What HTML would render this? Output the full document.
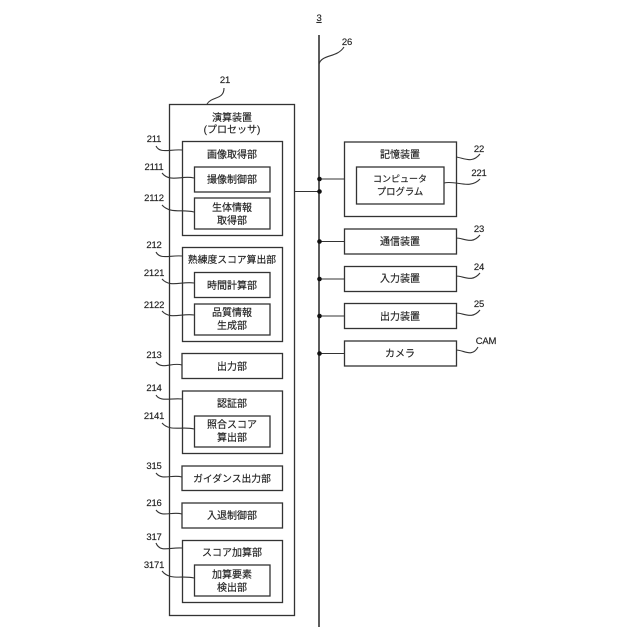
<!DOCTYPE html>
<html><head><meta charset="utf-8"><style>
html,body{margin:0;padding:0;background:#fff}
svg{display:block}
text{font-family:"Liberation Sans","Noto Sans CJK JP",sans-serif;fill:#222;font-size:10px;text-anchor:middle;stroke:#222;stroke-width:.15px}
.n{font-size:9.5px;letter-spacing:-.2px}
rect{fill:none;stroke:#333;stroke-width:1.3}
path,line{fill:none;stroke:#333;stroke-width:1.1}
.b{stroke-width:1.6}
circle{fill:#111}
</style></head><body>
<svg width="640" height="640" viewBox="0 0 640 640" xmlns="http://www.w3.org/2000/svg">
<text x="319" y="21" class="n" text-decoration="underline">3</text>
<line class="b" x1="319" y1="35" x2="319" y2="627"/>
<path d="M319 64C322 54 337 58 344 47"/>
<text x="347" y="45" class="n">26</text>

<rect x="169.5" y="104.5" width="125" height="511"/>
<path d="M207 104C212 96 224 100 224 88"/>
<text x="225" y="83" class="n">21</text>
<text x="232" y="121">演算装置</text>
<text x="232" y="133">(プロセッサ)</text>

<rect x="182.5" y="141.5" width="100" height="94"/>
<text x="232" y="158">画像取得部</text>
<rect x="194.5" y="167" width="75.500" height="25"/>
<text x="232" y="183">撮像制御部</text>
<rect x="194.5" y="198" width="75.500" height="31"/>
<text x="232" y="211">生体情報</text>
<text x="232" y="224">取得部</text>

<rect x="182.5" y="247.5" width="100" height="94"/>
<text x="232" y="263" style="font-size:9.800px">熟練度スコア算出部</text>
<rect x="194.5" y="272.500" width="75.500" height="25"/>
<text x="232" y="289">時間計算部</text>
<rect x="194.5" y="304" width="75.500" height="31"/>
<text x="232" y="316">品質情報</text>
<text x="232" y="329">生成部</text>

<rect x="182" y="353.500" width="100.500" height="25"/>
<text x="232" y="370">出力部</text>

<rect x="182.5" y="391" width="100" height="62.500"/>
<text x="232" y="407">認証部</text>
<rect x="194.5" y="416" width="75.500" height="31"/>
<text x="232" y="428">照合スコア</text>
<text x="232" y="441">算出部</text>

<rect x="182" y="466" width="100.500" height="24.500"/>
<text x="232" y="482" style="font-size:9.800px">ガイダンス出力部</text>
<rect x="182" y="503" width="100.500" height="25"/>
<text x="232" y="519">入退制御部</text>

<rect x="182.5" y="540.500" width="100" height="62"/>
<text x="232" y="556">スコア加算部</text>
<rect x="194.5" y="565" width="75.500" height="31"/>
<text x="232" y="578">加算要素</text>
<text x="232" y="591">検出部</text>

<text x="154" y="142" class="n">211</text>
<path d="M156 146C160 154 170 149 182 150"/>
<text x="154" y="170" class="n">2111</text>
<path d="M162 173C170 183 182 175 194 178"/>
<text x="154" y="201" class="n">2112</text>
<path d="M162 205C170 214 182 209 194 212"/>
<text x="154" y="248" class="n">212</text>
<path d="M156 252C160 260 170 255 182 256"/>
<text x="154" y="276" class="n">2121</text>
<path d="M162 279C170 288 182 281 194 283"/>
<text x="154" y="308" class="n">2122</text>
<path d="M162 311C170 320 182 313 194 315"/>
<text x="154" y="358" class="n">213</text>
<path d="M156 362C162 370 172 362 182 365"/>
<text x="154" y="391" class="n">214</text>
<path d="M156 395C160 402 170 398 182 399"/>
<text x="154" y="419" class="n">2141</text>
<path d="M162 423C170 432 182 426 194 429"/>
<text x="154" y="469" class="n">315</text>
<path d="M156 473C162 481 172 474 182 477"/>
<text x="154" y="506" class="n">216</text>
<path d="M156 510C162 518 172 511 182 514"/>
<text x="154" y="540" class="n">317</text>
<path d="M156 543C160 553 170 547 182 548"/>
<text x="154" y="568" class="n">3171</text>
<path d="M162 571C170 581 182 575 194 578"/>

<line x1="294" y1="191.500" x2="319" y2="191.500"/>
<line x1="319" y1="179" x2="344" y2="179"/>
<line x1="319" y1="241.500" x2="344" y2="241.500"/>
<line x1="319" y1="279" x2="344" y2="279"/>
<line x1="319" y1="316" x2="344" y2="316"/>
<line x1="319" y1="353.500" x2="344" y2="353.500"/>
<circle cx="319.500" cy="179" r="2.300"/>
<circle cx="319.500" cy="191.500" r="2.300"/>
<circle cx="319.500" cy="241.500" r="2.300"/>
<circle cx="319.500" cy="279" r="2.300"/>
<circle cx="319.500" cy="316" r="2.300"/>
<circle cx="319.500" cy="353.500" r="2.300"/>

<rect x="344.5" y="142" width="112" height="74.500"/>
<text x="400" y="158">記憶装置</text>
<rect x="356.5" y="167" width="87.500" height="37"/>
<text x="400" y="182" style="font-size:9px">コンピュータ</text>
<text x="400" y="195" style="font-size:9.400px">プログラム</text>
<rect x="344.5" y="229" width="112" height="25"/>
<text x="400" y="245">通信装置</text>
<rect x="344.5" y="266.500" width="112" height="25"/>
<text x="400" y="282">入力装置</text>
<rect x="344.5" y="303.500" width="112" height="25"/>
<text x="400" y="320">出力装置</text>
<rect x="344.5" y="341" width="112" height="25"/>
<text x="400" y="357">カメラ</text>

<text x="479" y="152" class="n">22</text>
<path d="M456 157C464 158 472 164 480 154"/>
<text x="479" y="176" class="n">221</text>
<path d="M444 183C456 180 470 190 480 179"/>
<text x="479" y="232" class="n">23</text>
<path d="M456 238C464 238 472 245 480 235"/>
<text x="479" y="270" class="n">24</text>
<path d="M456 276C464 276 472 283 480 273"/>
<text x="479" y="307" class="n">25</text>
<path d="M456 313C464 313 472 320 480 310"/>
<text x="486" y="344" class="n">CAM</text>
<path d="M456 350C464 350 472 358 478 347"/>
</svg>
</body></html>
